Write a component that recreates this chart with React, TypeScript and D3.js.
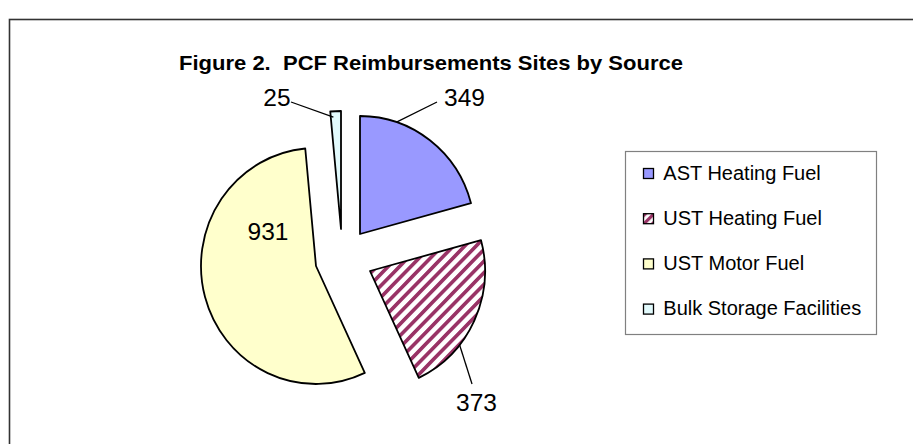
import React from "react";
import * as d3 from "d3";

const categories = ["AST Heating Fuel", "UST Heating Fuel", "UST Motor Fuel", "Bulk Storage Facilities"];
const values = [349, 373, 931, 25];
const titleText = "Figure 2.  PCF Reimbursements Sites by Source";

const W = 913;
const H = 444;
const RX = 115;
const RY = 118;
const CX = 343;
const CY = 257;
// per-slice explode offsets (layout)
const explode: [number, number][] = [[17, -23], [27, 14], [-27, 9], [-2, -28]];
// label anchor offsets from slice centre (layout)
const labelOff: [number, number][] = [[104.5, -128], [106.5, 139.5], [-48, -26], [-64, -123]];
// leader lines: [angle deg on slice, radius factor, end dx from label, end dy from label] or null
const leaders: ([number, number, number, number] | null)[] = [
  [18.5, 1.0, -27.5, -4],
  [128.8, 1.0, -4.5, -26.5],
  null,
  [356, 0.95, 14, -4],
];
const fills = ["#9999FF", "url(#stripes)", "#FFFFCC", "#E2FAFC"];

export default function App() {
  const pie = d3.pie<number>().sort(null).value((d) => d)(values);
  const arc = d3.arc<d3.PieArcDatum<number>>().innerRadius(0).outerRadius(RX);
  const sy = RY / RX;
  const font = "'Liberation Sans', Arial, sans-serif";
  const legX = 625;
  const legY = 151;
  const legW = 251;
  const legH = 183;

  return (
    <svg width={W} height={H} style={{ position: "absolute", left: 0, top: 0, background: "#fff" }} fontFamily={font}>
      <defs>
        <pattern id="stripes" patternUnits="userSpaceOnUse" width="8" height="8" patternTransform="rotate(-45)">
          <rect width="8" height="8" fill="#fff" />
          <rect width="8" height="3.6" fill="#993366" />
        </pattern>
        <pattern id="stripesSmall" patternUnits="userSpaceOnUse" width="6" height="6" patternTransform="rotate(-45)">
          <rect width="6" height="6" fill="#fff" />
          <rect width="6" height="3.2" fill="#993366" />
        </pattern>
      </defs>
      <rect x={0} y={0} width={W} height={H} fill="#fff" />
      <rect x={9.5} y={19.5} width={1000} height={1000} fill="none" stroke="#333" strokeWidth={1.6} />
      <text
        x={179}
        y={70}
        fontSize={21}
        fontWeight="bold"
        textLength={504}
        lengthAdjust="spacingAndGlyphs"
        fill="#000"
        style={{ whiteSpace: "pre" }}
        xmlSpace="preserve"
      >
        {titleText}
      </text>
      {pie.map((p, i) => {
        const cx = CX + explode[i][0];
        const cy = CY + explode[i][1];
        return (
          <g key={i}>
            <path
              d={arc(p) || ""}
              transform={`translate(${cx},${cy}) scale(1,${sy})`}
              fill={fills[i]}
              stroke="#000"
              strokeWidth={1.8}
              strokeLinejoin="round"
              vectorEffect="non-scaling-stroke"
            />
          </g>
        );
      })}
      {pie.map((p, i) => {
        const cx = CX + explode[i][0];
        const cy = CY + explode[i][1];
        const lx = cx + labelOff[i][0];
        const ly = cy + labelOff[i][1];
        const ld = leaders[i];
        let line = null;
        if (ld) {
          const a = (ld[0] * Math.PI) / 180;
          const x1 = cx + Math.sin(a) * RX * ld[1];
          const y1 = cy - Math.cos(a) * RY * ld[1];
          line = <line x1={x1} y1={y1} x2={lx + ld[2]} y2={ly + ld[3]} stroke="#000" strokeWidth={1.3} />;
        }
        return (
          <g key={"l" + i}>
            {line}
            <text x={lx} y={ly} fontSize={24.5} textAnchor="middle" fill="#000">
              {String(values[i])}
            </text>
          </g>
        );
      })}
      <rect x={legX + 0.5} y={legY + 0.5} width={legW} height={legH} fill="#fff" stroke="#808080" strokeWidth={1.2} />
      {categories.map((c, i) => {
        const base = 179.5 + i * 45.2;
        return (
          <g key={"g" + i}>
            <rect
              x={643.5}
              y={base - 11}
              width={10}
              height={10}
              fill={i === 1 ? "url(#stripesSmall)" : fills[i]}
              stroke="#000"
              strokeWidth={1.3}
            />
            <text x={663.3} y={base} fontSize={20} fill="#000">
              {c}
            </text>
          </g>
        );
      })}
    </svg>
  );
}
